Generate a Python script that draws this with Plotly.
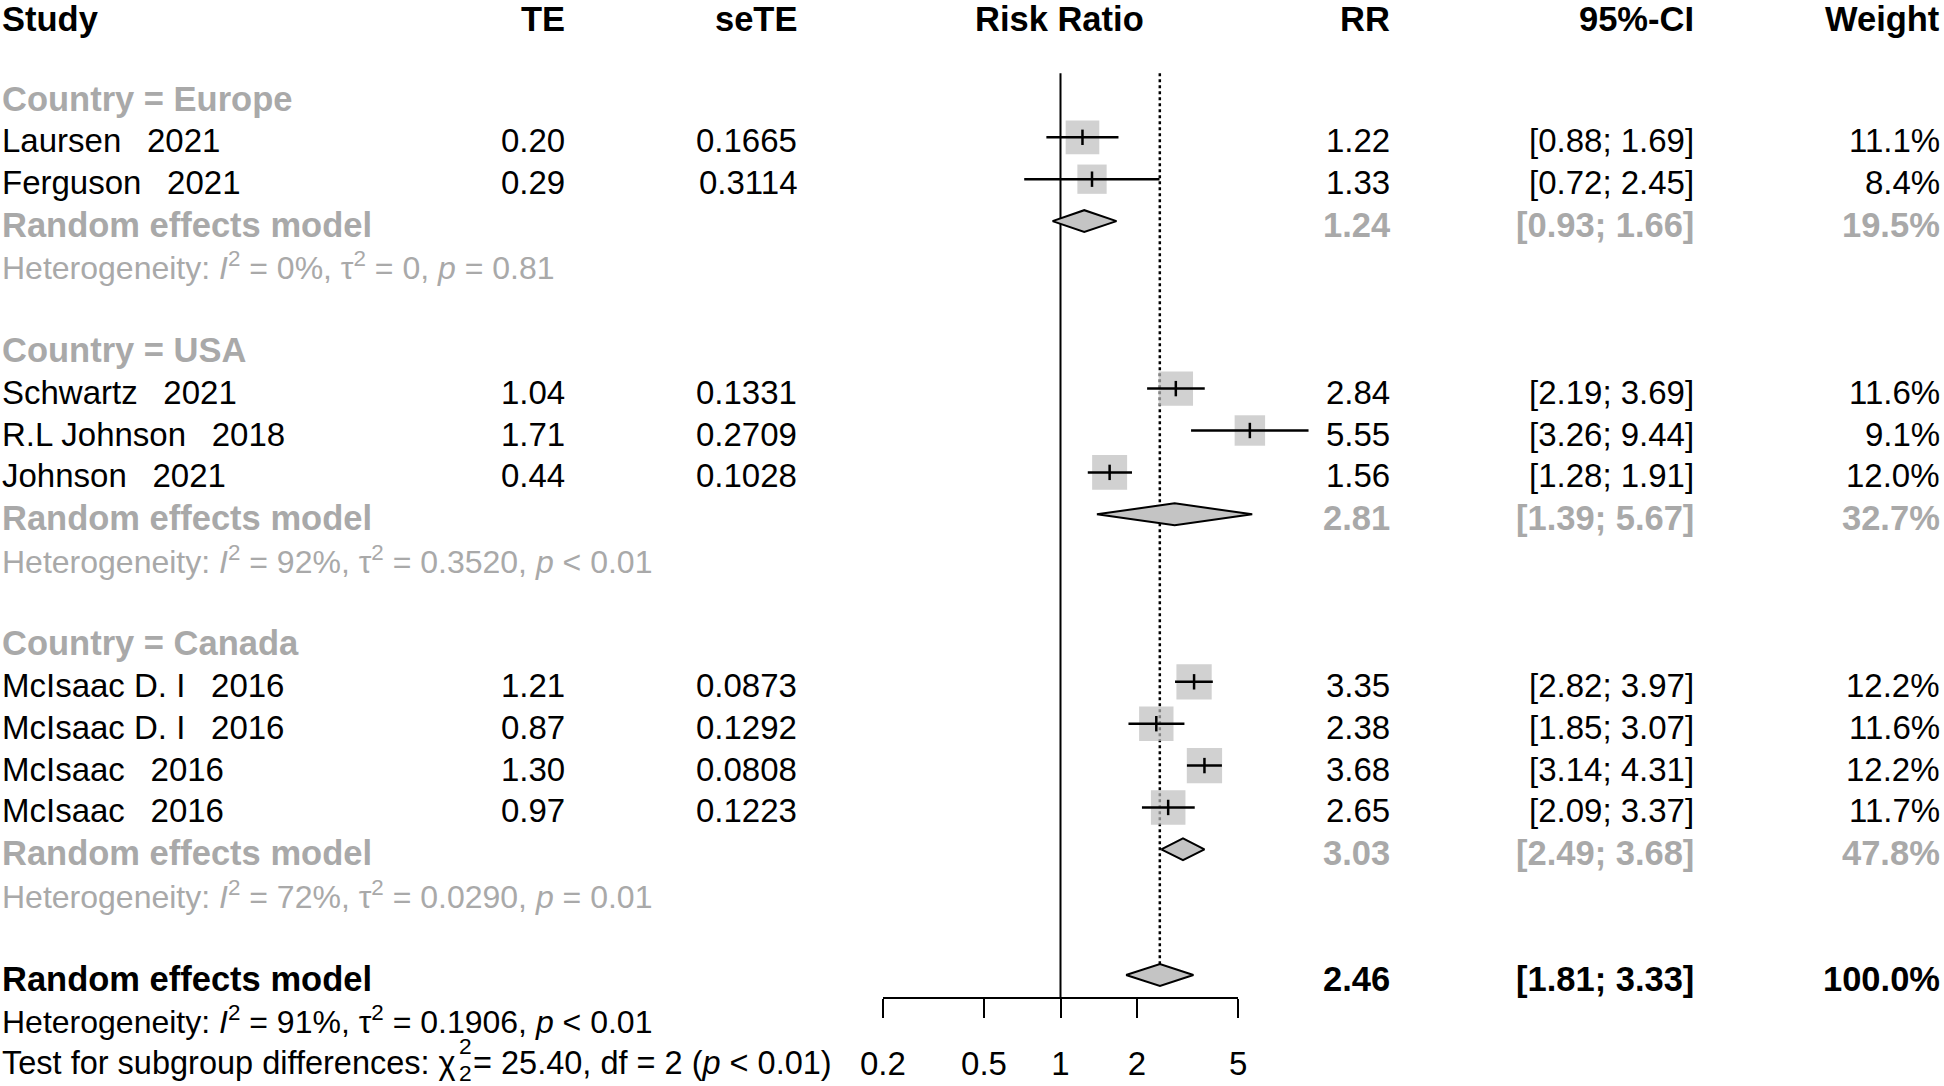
import numpy as np
import plotly.graph_objects as go

# ---------------- data ----------------
SEP = "\u2002\u00a0"   # wide gap between author and year, as in the source
study_authors = ["Laursen", "Ferguson", "Schwartz", "R.L Johnson", "Johnson",
                 "McIsaac D. I", "McIsaac D. I", "McIsaac", "McIsaac"]
study_years = ["2021", "2021", "2021", "2018", "2021", "2016", "2016", "2016", "2016"]
study_group = ["Europe", "Europe", "USA", "USA", "USA", "Canada", "Canada", "Canada", "Canada"]
te_text = ["0.20", "0.29", "1.04", "1.71", "0.44", "1.21", "0.87", "1.30", "0.97"]
sete_text = ["0.1665", "0.3114", "0.1331", "0.2709", "0.1028", "0.0873", "0.1292", "0.0808", "0.1223"]
rr = [1.22, 1.33, 2.84, 5.55, 1.56, 3.35, 2.38, 3.68, 2.65]
lower = [0.88, 0.72, 2.19, 3.26, 1.28, 2.82, 1.85, 3.14, 2.09]
upper = [1.69, 2.45, 3.69, 9.44, 1.91, 3.97, 3.07, 4.31, 3.37]
weight = [11.1, 8.4, 11.6, 9.1, 12.0, 12.2, 11.6, 12.2, 11.7]

groups = ["Europe", "USA", "Canada"]
grp_rr = [1.24, 2.81, 3.03]
grp_lower = [0.93, 1.39, 2.49]
grp_upper = [1.66, 5.67, 3.68]
grp_weight = ["19.5%", "32.7%", "47.8%"]
grp_i2 = ["0", "92", "72"]
grp_tau2 = ["0", "0.3520", "0.0290"]
grp_p = ["= 0.81", "&lt; 0.01", "= 0.01"]

overall_rr = 2.46
overall_lower = 1.81
overall_upper = 3.33
overall_weight = "100.0%"
overall_i2 = "91"
overall_tau2 = "0.1906"
overall_p = "&lt; 0.01"
test_chi2 = "25.40"
test_df = "2"
test_p = "&lt; 0.01"

tick_vals = [0.2, 0.5, 1, 2, 5]
tick_labels = ["0.2", "0.5", "1", "2", "5"]
headers = ["Study", "TE", "seTE", "Risk Ratio", "RR", "95%-CI", "Weight"]

# ---------------- layout constants ----------------
W, H = 1944, 1086
FONT = "Liberation Sans, Arial, Helvetica, sans-serif"
FS = 33            # regular column text
FS_HET = 32        # heterogeneity lines
FS_TEST = 32.5     # test line
FS_B = 34.5        # bold text
GREY = "#A9A9A9"
SQ = "#BEBEBE"
Y0, DY = 11.65, 41.885          # pixel centre of row 0 and row pitch
TEXT_OFF = 3.5                   # text visual centre below marker centre
AX_BOTTOM = 997.3                # pixel of the x axis line
LOG0_PX, DEC_PX = 1060.5, 254.4  # pixel of RR=1, pixels per decade
DIAM_H = 0.26

# column pixel anchors
X_STUDY = 2
X_TE = 565
X_SETE = 796.5
X_RRH = 1059
X_RR = 1389.5
X_CI = 1693.5
X_W = 1939.5

# ---------------- row structure ----------------
study_rows = []
grp_label_rows, grp_rem_rows, grp_het_rows = [], [], []
row = 2
for g in groups:
    grp_label_rows.append(row)
    row += 1
    for sg in study_group:
        if sg == g:
            study_rows.append(row)
            row += 1
    grp_rem_rows.append(row)
    grp_het_rows.append(row + 1)
    row += 3
overall_row = row
overall_het_row = row + 1
test_row = row + 2


def row_to_paper(r, extra=0.0):
    return 1 - (Y0 + DY * r + TEXT_OFF + extra) / H


anns = []


def txt(xpx, r, text, anchor="left", color="black", bold=False, size=None, extra=0.0):
    if size is None:
        size = FS_B if bold else FS
    if bold:
        text = f"<b>{text}</b>"
    anns.append(dict(x=xpx / W, xref="paper", y=row_to_paper(r, extra), yref="paper",
                     text=text, xanchor=anchor, yanchor="middle", showarrow=False,
                     borderpad=0, borderwidth=0,
                     font=dict(family=FONT, size=size, color=color)))


# headers
HEAD_SHIFT = 4
txt(X_STUDY, 0, headers[0], "left", bold=True, extra=HEAD_SHIFT)
txt(X_TE, 0, headers[1], "right", bold=True, extra=HEAD_SHIFT)
txt(X_SETE, 0, headers[2], "right", bold=True, extra=HEAD_SHIFT)
txt(X_RRH, 0, headers[3], "center", bold=True, extra=HEAD_SHIFT)
txt(X_RR, 0, headers[4], "right", bold=True, extra=HEAD_SHIFT)
txt(X_CI, 0, headers[5], "right", bold=True, extra=HEAD_SHIFT)
txt(X_W, 0, headers[6], "right", bold=True, extra=HEAD_SHIFT)

# studies
for i, r in enumerate(study_rows):
    txt(X_STUDY, r, study_authors[i] + SEP + study_years[i], "left")
    txt(X_TE, r, te_text[i], "right")
    txt(X_SETE, r, sete_text[i], "right")
    txt(X_RR, r, f"{rr[i]:.2f}", "right")
    txt(X_CI, r, f"[{lower[i]:.2f}; {upper[i]:.2f}]", "right")
    txt(X_W, r, f"{weight[i]:.1f}%", "right")


def het(i2, tau2, p):
    return (f"Heterogeneity: <i>I</i><sup>2</sup> = {i2}%, "
            f"\u03c4<sup>2</sup> = {tau2}, <i>p</i> {p}")


for j, g in enumerate(groups):
    txt(X_STUDY, grp_label_rows[j], f"Country = {g}", "left", GREY, bold=True)
    txt(X_STUDY, grp_rem_rows[j], "Random effects model", "left", GREY, bold=True)
    txt(X_RR, grp_rem_rows[j], f"{grp_rr[j]:.2f}", "right", GREY, bold=True)
    txt(X_CI, grp_rem_rows[j], f"[{grp_lower[j]:.2f}; {grp_upper[j]:.2f}]", "right", GREY, bold=True)
    txt(X_W, grp_rem_rows[j], grp_weight[j], "right", GREY, bold=True)
    txt(X_STUDY, grp_het_rows[j], het(grp_i2[j], grp_tau2[j], grp_p[j]), "left", GREY, size=FS_HET)

txt(X_STUDY, overall_row, "Random effects model", "left", bold=True)
txt(X_RR, overall_row, f"{overall_rr:.2f}", "right", bold=True)
txt(X_CI, overall_row, f"[{overall_lower:.2f}; {overall_upper:.2f}]", "right", bold=True)
txt(X_W, overall_row, overall_weight, "right", bold=True)
txt(X_STUDY, overall_het_row, het(overall_i2, overall_tau2, overall_p), "left", size=FS_HET)

TEST_SHIFT = 1
txt(X_STUDY, test_row, "Test for subgroup differences: \u03c7", "left", size=FS_TEST, extra=TEST_SHIFT)
txt(465, test_row, "2", "center", size=FS_TEST * 0.7, extra=TEST_SHIFT - 17)
txt(465, test_row, "2", "center", size=FS_TEST * 0.7, extra=TEST_SHIFT + 10)
txt(473, test_row, f"= {test_chi2}, df = {test_df} (<i>p</i> {test_p})", "left",
    size=FS_TEST, extra=TEST_SHIFT)

# ---------------- traces ----------------
fig = go.Figure()

# squares
fig.add_trace(go.Scatter(
    x=rr, y=study_rows, mode="markers", xaxis="x2", yaxis="y", hoverinfo="skip",
    marker=dict(symbol="square", color=SQ, size=[10.1 * np.sqrt(w) for w in weight],
                line=dict(width=0)), cliponaxis=False, showlegend=False))

# confidence interval lines
ci_x, ci_y = [], []
for lo, up, r in zip(lower, upper, study_rows):
    ci_x += [lo, up, None]
    ci_y += [r, r, None]
fig.add_trace(go.Scatter(x=ci_x, y=ci_y, mode="lines", xaxis="x2", yaxis="y",
                         line=dict(color="black", width=2.5), hoverinfo="skip", showlegend=False))

# point estimate ticks
fig.add_trace(go.Scatter(
    x=rr, y=study_rows, mode="markers", xaxis="x2", yaxis="y", hoverinfo="skip",
    marker=dict(symbol="line-ns-open", size=11, color="black", line=dict(color="black", width=2.5)),
    cliponaxis=False, showlegend=False))

# reference lines
row_top = -Y0 / DY
row_bottom = (AX_BOTTOM - Y0) / DY
line_start = 1.47
fig.add_trace(go.Scatter(x=[1, 1], y=[line_start, row_bottom], mode="lines", xaxis="x", yaxis="y",
                         line=dict(color="black", width=2), hoverinfo="skip", showlegend=False))
fig.add_trace(go.Scatter(x=[overall_rr, overall_rr], y=[line_start, overall_row - DIAM_H],
                         mode="lines", xaxis="x", yaxis="y",
                         line=dict(color="black", width=2.5, dash="dot"), hoverinfo="skip",
                         showlegend=False))

# diamonds
sum_est = grp_rr + [overall_rr]
sum_lo = grp_lower + [overall_lower]
sum_up = grp_upper + [overall_upper]
sum_rows = grp_rem_rows + [overall_row]
for e, lo, up, r in zip(sum_est, sum_lo, sum_up, sum_rows):
    fig.add_trace(go.Scatter(
        x=[lo, e, up, e, lo], y=[r, r - DIAM_H, r, r + DIAM_H, r], mode="lines",
        fill="toself", fillcolor="#C4C4C4", xaxis="x2", yaxis="y",
        line=dict(color="black", width=2), hoverinfo="skip", showlegend=False))

eps = 0.001
fig.update_layout(
    width=W, height=H, autosize=False,
    margin=dict(l=0, r=0, t=0, b=0, pad=0, autoexpand=False),
    paper_bgcolor="white", plot_bgcolor="rgba(0,0,0,0)",
    showlegend=False,
    xaxis=dict(type="log", anchor="y", automargin=False,
               domain=[(LOG0_PX + np.log10(0.2) * DEC_PX) / W, (LOG0_PX + np.log10(5) * DEC_PX) / W],
               range=[np.log10(0.2) - eps, np.log10(5) + eps],
               tickvals=tick_vals, ticktext=tick_labels,
               showline=True, linecolor="black", linewidth=2,
               ticks="outside", ticklen=19, tickwidth=2, tickcolor="black",
               ticklabelstandoff=17,
               showgrid=False, zeroline=False,
               tickfont=dict(family=FONT, size=FS, color="black")),
    xaxis2=dict(type="log", anchor="y", domain=[860 / W, 1330 / W], automargin=False,
                range=[(860 - LOG0_PX) / DEC_PX, (1330 - LOG0_PX) / DEC_PX],
                visible=False, showgrid=False, zeroline=False),
    yaxis=dict(domain=[1 - AX_BOTTOM / H, 1], range=[row_bottom, row_top], automargin=False,
               visible=False, showgrid=False, zeroline=False),
    annotations=anns,
)

# remove the default page margin so the figure sits at the window's top-left corner
fig.write_html("out.html",
               config={"displayModeBar": False, "staticPlot": True},
               post_script="document.body.style.margin='0px';"
                           "document.documentElement.style.overflow='hidden';")
